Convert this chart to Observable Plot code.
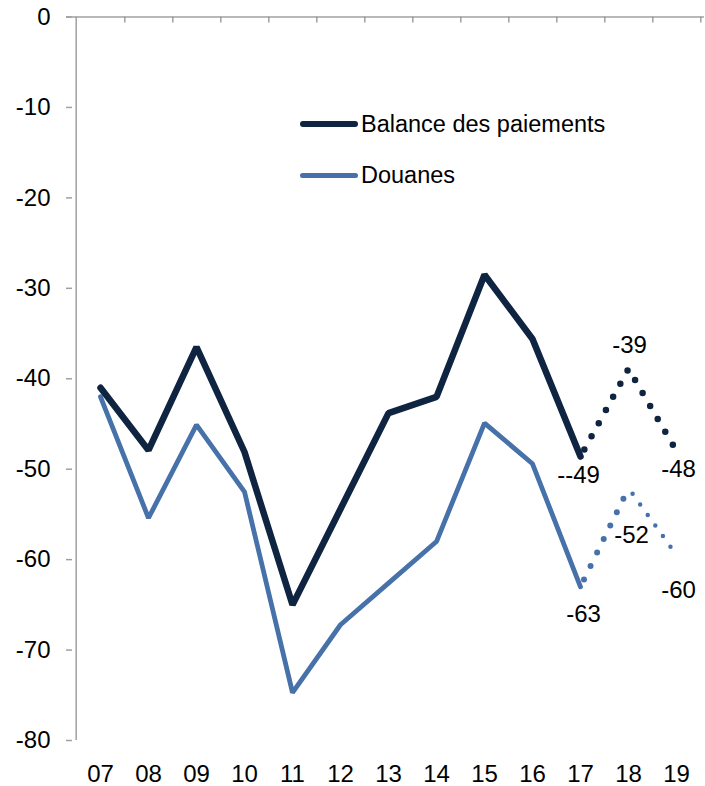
<!DOCTYPE html>
<html>
<head>
<meta charset="utf-8">
<script src="https://cdn.jsdelivr.net/npm/d3@7"></script>
<script src="https://cdn.jsdelivr.net/npm/@observablehq/plot@0.6"></script>
<style>
  html, body { margin: 0; padding: 0; background: #fff; }
  #wrap { position: relative; width: 705px; height: 786px; font-family: "Liberation Sans", Arial, sans-serif; }
  #legend { position: absolute; left: 300px; top: 104px; font-size: 23.5px; color: #000; }
  .item { display: flex; align-items: center; height: 40px; margin-bottom: 11px; }
  .swatch { width: 58px; border-radius: 4px; margin-right: 3px; }
</style>
</head>
<body>
<div id="wrap"><div id="legend"></div></div>
<script>
// ---- data ----
const years = ["07","08","09","10","11","12","13","14","15","16","17","18","19"];
const yTicks = [0, -10, -20, -30, -40, -50, -60, -70, -80];
const seriesNames = ["Balance des paiements", "Douanes"];
const balanceYears = ["07","08","09","10","11","12","13","14","15","16","17"];
const balance = [-41.0, -47.9, -36.5, -48.1, -65.0, -54.4, -43.8, -42.0, -28.5, -35.6, -48.6];
const douanes = [-42.0, -55.4, -45.1, -52.5, -74.7, -67.2, -62.6, -58.0, -44.9, -49.4, -63.0];
const forecastYears = ["17","18","19"];
const balanceForecast = [-48.6, -38.9, -48.0];
const douanesForecast = [-63.0, -52.1, -59.5];
const balanceLabels = ["--49", "-39", "-48"];
const douanesLabels = ["-63", "-52", "-60"];

// ---- styles ----
const navy = "#0f2440";
const blue = "#4671a9";
const gray = "#a0a0a0";
const W = 705, H = 786, mL = 72, mR = 1, mT = 16.5, mB = 46;
const step = (W - mL - mR) / years.length;

const bal = balanceYears.map((x, i) => ({x, y: balance[i]}));
const dou = balanceYears.map((x, i) => ({x, y: douanes[i]}));
const balF = forecastYears.map((x, i) => ({x, y: balanceForecast[i], label: balanceLabels[i]}));
const douF = forecastYears.map((x, i) => ({x, y: douanesForecast[i], label: douanesLabels[i]}));

const balLabelOffsets = [[-2, 19], [1, -23], [2, 18]];
const douLabelOffsets = [[3, 28], [3, 47], [2, 35]];

const chart = Plot.plot({
  width: W, height: H,
  marginLeft: mL, marginRight: mR, marginTop: mT, marginBottom: mB,
  style: {fontFamily: "Liberation Sans, Arial, sans-serif", fontSize: "24px", background: "transparent", color: "#000"},
  x: {type: "point", domain: years, padding: 0.5, label: null},
  y: {domain: [-80, 0], label: null},
  marks: [
    Plot.axisY({ticks: yTicks, tickSize: 6, tickPadding: 16, stroke: gray, strokeWidth: 1.5, fill: "#000", fontSize: 24, label: null, tickFormat: d => String(d)}),
    Plot.axisX({tickSize: 0, tickPadding: 24, fill: "#000", fontSize: 24, label: null}),
    // left axis line
    Plot.ruleX([years[0]], {dx: -step / 2, y1: -80, y2: 0, stroke: gray, strokeWidth: 1.5}),
    // top category axis at 0
    Plot.ruleY([0], {stroke: gray, strokeWidth: 1.5, insetLeft: -6}),
    Plot.ruleX(years, {dx: step / 2, y1: 0, y2: 0, insetBottom: -6, stroke: gray, strokeWidth: 1.5}),
    // series
    Plot.line(dou, {x: "x", y: "y", stroke: blue, strokeWidth: 4.8, strokeLinejoin: "miter", strokeLinecap: "round"}),
    Plot.line(bal, {x: "x", y: "y", stroke: navy, strokeWidth: 6.5, strokeLinejoin: "miter", strokeLinecap: "round"}),
    Plot.line(balF, {x: "x", y: "y", stroke: navy, strokeWidth: 6.5, strokeDasharray: "0 15", strokeDashoffset: -8, strokeLinecap: "round"}),
    Plot.line(douF.slice(0, 2), {x: "x", y: "y", stroke: blue, strokeWidth: 6, strokeDasharray: "0 15", strokeDashoffset: -8, strokeLinecap: "round"}),
    Plot.line(douF.slice(1), {x: "x", y: "y", stroke: blue, strokeWidth: 4.5, strokeDasharray: "0 13", strokeDashoffset: -7, strokeLinecap: "round"}),
    // value labels
    ...balF.map((d, i) => Plot.text([d], {x: "x", y: "y", text: "label", dx: balLabelOffsets[i][0], dy: balLabelOffsets[i][1], fill: "#000", fontSize: 24})),
    ...douF.map((d, i) => Plot.text([d], {x: "x", y: "y", text: "label", dx: douLabelOffsets[i][0], dy: douLabelOffsets[i][1], fill: "#000", fontSize: 24}))
  ]
});

const wrap = document.getElementById("wrap");
wrap.insertBefore(chart, wrap.firstChild);

const legend = document.getElementById("legend");
[[seriesNames[0], navy, 6.5], [seriesNames[1], blue, 5]].forEach(([name, color, w]) => {
  const item = document.createElement("div");
  item.className = "item";
  const sw = document.createElement("div");
  sw.className = "swatch";
  sw.style.height = w + "px";
  sw.style.background = color;
  const t = document.createElement("span");
  t.textContent = name;
  item.appendChild(sw); item.appendChild(t);
  legend.appendChild(item);
});
</script>
</body>
</html>
